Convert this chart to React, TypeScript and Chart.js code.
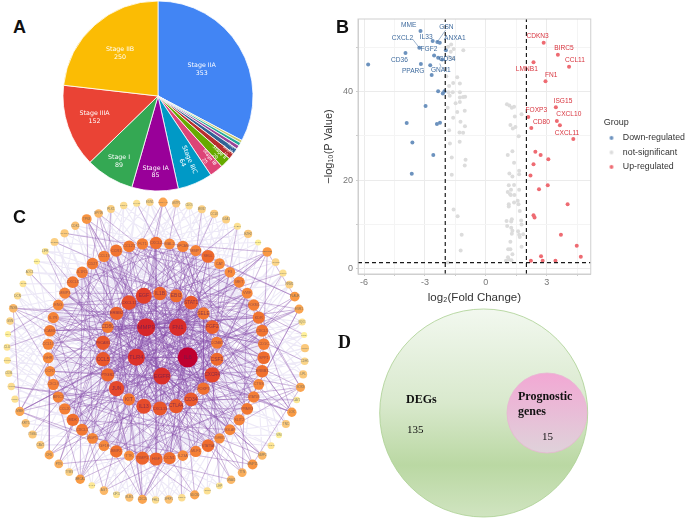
import React, { useEffect, useRef } from "react";
import { Chart, registerables } from "chart.js";

Chart.register(...registerables);

/* ---------- A: stage pie ---------- */
const stageNames = ["Stage IIA", "", "", "", "Stage III", "Stage IV", "Stage II", "Stage IB", "Stage IIIC", "Stage IA", "Stage I", "Stage IIIA", "Stage IIB"];
const stageCounts = [353, 5, 6, 7, 10, 12, 20, 25, 64, 85, 89, 152, 250];
const stageColors = ["#4285f4", "#c8c86a", "#22aa99", "#994499", "#316395", "#b82e2e", "#66aa00", "#dd4477", "#0099c6", "#990099", "#34a853", "#ea4335", "#fbbc04"];
const stageLabelRadius = [51, 0, 0, 0, 91, 89, 83, 80, 71, 76, 76, 67, 57];

/* ---------- B: volcano ---------- */
const downPoints = [[-3.22,53.8],[-2.62,51.5],[-2.39,51.3],[-2.27,51.1],[-3.28,50],[-1.97,49.4],[-3.96,48.8],[-2.55,48.2],[-2.35,47.7],[-2.15,47.3],[-5.8,46.2],[-3.2,46.3],[-2.74,46],[-2.67,43.8],[-2.35,40.1],[-2.12,39.6],[-2.04,40.1],[-2.97,36.8],[-3.9,32.9],[-2.41,32.7],[-2.26,33],[-3.62,28.5],[-2.59,25.7],[-3.65,21.4]];
const upPoints = [[2.85,51.1],[3.55,48.4],[2.35,46.7],[4.1,45.7],[2.94,42.4],[3.45,36.5],[2.09,34.3],[3.5,33.4],[3.65,32.4],[2.24,31.8],[4.31,29.3],[2.44,26.4],[2.7,25.7],[3.08,24.7],[2.35,23.6],[2.2,21],[3.05,18.8],[2.62,17.9],[4.03,14.5],[2.35,12],[2.4,11.5],[3.7,7.6],[4.48,5.1],[4.68,2.6],[2.72,2.7],[2.22,1.7],[2.8,1.7],[3.43,1.7]];
const nsPoints = [[-1.71,50.7],[-1.58,49.7],[-1.11,49.4],[-1.86,50.2],[-1.73,49.1],[-1.84,47.9],[-1.61,47.6],[-1.95,43.5],[-1.41,43.3],[-1.61,42],[-1.81,41.3],[-1.28,41.9],[-1.63,39.9],[-1.28,39.9],[-1.84,39.9],[-1.78,39.1],[-1.28,38.7],[-1.02,38.9],[-1.12,38.8],[-1.28,37.7],[-1.49,37.4],[-1.88,36.4],[-1.04,35.7],[-1.41,35.4],[-1.61,34.1],[-1.25,33.2],[-1.03,32.2],[-1.81,31.3],[-1.3,30.8],[-1.12,30.7],[-1.77,28.3],[-1.29,28.7],[-1.68,25.1],[-1,24.6],[-1.04,23.3],[-1.68,21.2],[-1.59,13.3],[-1.39,11.8],[-1.19,7.6],[-1.24,4],[-1.87,1.3],
[1.04,37.2],[1.16,36.9],[1.28,36.4],[1.39,36.6],[1.76,34.9],[1.43,34.4],[1.21,32.5],[1.33,31.7],[1.46,32],[1.62,29.9],[1.08,25.7],[1.31,26.5],[1.39,23.9],[1.16,21.5],[1.31,20.8],[1.64,22.1],[1.64,21.3],[1.13,18.8],[1.39,18.9],[1.24,17.8],[1.64,17.8],[1.08,17.3],[1.2,16.8],[1.23,16.6],[1.41,16.6],[1.57,15.3],[1.39,14.9],[1.61,14.5],[1.13,14.5],[1.13,14],[1.67,13],[1.28,11.1],[1.25,10.6],[1.02,10.7],[1.74,10.8],[1.76,9.9],[1.05,9.6],[1.25,9.2],[1.31,8.5],[1.28,7.8],[1.59,8.4],[1.64,7.6],[1.67,7.1],[1.84,7.7],[1.21,6],[1.76,4.9],[1.1,4.3],[1.21,4.3],[1.31,3.2],[1.09,2.5],[1.13,2],[1.26,1.8],[0.99,1.7]];
const downGenes: [string, number, number][] = [["MME",-3.8,55],["IL33",-2.94,52.4],["GSN",-1.94,54.7],["CXCL2",-4.11,52.2],["ANXA1",-1.53,52.1],["FGF2",-2.8,49.7],["CD36",-4.26,47.2],["CD34",-1.91,47.5],["PPARG",-3.58,44.7],["GNAI1",-2.22,44.8]];
const upGenes: [string, number, number][] = [["CDKN3",2.55,52.5],["BIRC5",3.85,49.8],["CCL11",4.39,47.1],["LMNB1",2.02,45.1],["FN1",3.22,43.8],["ISG15",3.8,37.9],["FOXP3",2.49,35.8],["CXCL10",4.09,34.9],["CD80",2.74,33.2],["CXCL11",4,30.7]];
const connectors = [[-3.62,52,-3.28,50],[-1.98,54,-2.39,51.3],[-2.27,47.9,-2.15,47.3],[-2.27,46.4,-2.2,45.5]];
const foldCut = 2;
const pCut = 1.3;
const xTicks = [-6, -4.5, -3, -1.5, 0, 1.5, 3, 4.5];
const yTicks = [0, 10, 20, 30, 40, 50];
const xMajor = [-6, -3, 0, 3];
const yMajor = [0, 20, 40];
const xRange = [-6.3, 5.17];
const yRange = [-1.3, 56.5];

/* ---------- C: PPI network, rings read clockwise from the top ---------- */
const coreNames = ["FN1", "IL6", "EGFR", "TLR4", "MMP9"];
const coreDegree = [50, 60, 49, 48, 52];
const ring2Names = ["IL1B","EBI3","STAT1","SELE","FGF2","CCNB1","CSF1","CXCR4","FOXP3","CD34","CTLA4","CXCL13","IL13","KIT","JUN","PTGS2","CCL5","PECAM1","CD80","ERBB2","CXCL11","EGF"];
const ring2Degree = [34,32,36,29,35,28,32,42,30,36,37,37,40,29,41,33,37,37,28,34,39,44];
const ring3Names = ["CXCL2","MAL2","EPCAM","MMP7","SELL","CAT","F3","MET","VWF","FOXM1","KDR","CXCL5","CD1C","SPP1","ERBB3","CTSS","STAT5B","PPARG","SLIT2","BGLAP","TGFBR3","STAT5A","MLF1","IL23A","CCN1","HGF","TIMP1","TTK","BMP2","IGF1R","ANGPT2","CXCL1","MDK","CCL20","BIRC3","CXCL9","CCR7","GHR","CCL17","ICAM1","IL7R","ENG","MMP3","CXCL8","IL1R1","CD27","CCL19","CCR1","CCL21","FLT1"];
const ring3Degree = [30,24,26,25,32,23,23,25,24,26,29,29,27,31,30,24,26,28,25,24,22,31,26,23,30,33,33,22,30,23,24,28,30,26,25,26,23,24,25,27,25,24,25,28,27,27,26,29,28,26];
const ring4Names = ["PRKAA2","GSTP1","CDO1","MKI67","CCL8","GJA1","FABP4","EZH2","GHRL","SERPINE1","HMMR","CXCL14","RRM2","PLAUR","ESR1","NQO1","TOP2A","AURKA","CDH5","LPL","SOX9","CAV1","LOX","TNC","VIM","ACTA2","MMP2","MMP11","TTN","GNAI1","LEP","ADIPOQ","NDC80","CCNA2","SFRP1","FHL1","CDC20","BUB1","KIF11","AGT","GATA3","BRCA1","TYMS","PTN","CFD","CAV2","ITGB4","KRT5","MME","KRT14","ACKR1","CD36","TIMP3","CLU","ANXA1","GSN","TNXB","DCN","ADH1B","AOC3","PDK4","LIFR","CLDN5","SPARCL1","CDK1","TP63","NPY1R","PLK1","COL1A1","MYH11","EDN1"];
const ring4Degree = [17,14,10,12,13,12,9,13,5,19,11,9,12,19,17,9,5,13,11,13,17,7,18,13,5,8,15,20,16,15,8,9,17,10,14,10,17,14,8,15,7,18,12,16,17,13,13,14,17,9,10,9,8,8,5,11,15,10,8,10,5,8,12,13,14,20,15,12,10,9,11];
// Links: first id of each row joins every id after it. Ids run core 0-4, ring 2 5-26, ring 3 27-76, ring 4 77-147.
const strongLinks = [
[0,1,2,3,4,5,8,11,13,16,20,23,26,29,34,39,44,49,55,61,66,72,86,99,109,125],
[1,2,3,4,6,9,12,15,18,21,24,28,31,37,42,47,53,59,64,70,76,90,104,118],
[2,3,4,7,10,14,17,19,22,25,30,35,41,46,52,57,63,68,74,91,106,121,142],
[3,4,5,6,9,13,16,20,26,32,38,43,48,54,60,65,71,75,77,97,113,133],
[4,6,8,11,15,18,23,27,33,36,40,45,50,56,62,67,73,103,116,143],
[5,9,14,19,24,33,41,50,58,69,78,105,130],[6,12,17,22,30,37,46,55,63,72,81,110],[7,11,16,21,26,34,43,51,60,68,88,120,139],
[8,13,18,25,29,39,47,56,65,74,95,125],[9,15,20,24,31,40,49,59,66,76,100,133],[10,14,19,23,28,36,44,53,62,71,83,113],
[11,17,22,26,32,42,48,57,67,75,92,146],[12,16,21,25,35,45,52,61,69,27,107,121],[13,18,24,30,38,46,54,64,73,86,116],
[14,20,26,33,41,51,58,70,29,98,142],[15,19,23,31,37,47,55,68,76,90,127],[16,22,25,34,44,50,62,72,28,104,136],
[17,21,27,35,43,53,65,74,97,143],[18,24,32,40,49,60,71,31,109,118],[19,26,30,39,48,56,66,75,77,125],
[20,25,36,42,52,63,70,33,91,133],[21,28,38,45,57,67,73,86,105,144],[22,29,34,47,54,64,76,35,99,120],
[23,27,37,46,59,69,41,103,138],[24,33,40,51,61,72,30,113,142],[25,31,43,50,58,74,39,97,118],[26,36,44,55,68,75,32,106,123],
[27,52,64,86,131],[29,58,70,90,104],[31,56,90,121,140],[33,60,74,97],[35,62,76,105,125],[37,66,99,133],[39,68,109,143],[41,72,86,113],
[43,28,118,77],[45,69,91,127],[47,61,103,142],[49,73,120],[51,75,116,80],[53,34,106,90],[55,38,125,97],[57,42,133,104],[59,46,143,86],
[61,48,77,109],[63,50,83,121],[65,30,91,113],[67,36,99,116],[69,44,103,138],[71,54,105,118],[73,40,113,125],[75,32,120,93],
[86,90,58,65],[91,45,60,71],[97,104,36,50],[99,41,28,66],[113,35,70,88],[118,62,29],[125,52,74,133],[142,39,57]];
const paleLinks = [
[27,78,92,110,128,146,55],[28,79,93,111,129,147,56],[29,80,94,112,130,57,141],[30,81,95,113,131,58,140],[31,82,96,114,132,59,139],
[32,83,98,115,133,60,138],[33,84,100,116,134,61,137],[34,85,101,117,135,62,136],[35,87,102,119,136,63,144],[36,88,103,120,137,64,145],
[37,89,105,122,138,65,146],[38,92,107,123,139,66,147],[39,93,108,124,140,67,78],[40,94,110,126,141,68,79],[41,95,111,127,142,69,80],
[42,96,112,128,143,70,81],[43,98,114,129,144,71,82],[44,100,115,130,145,72,83],[45,101,117,131,146,73,84],[46,102,119,132,147,74,85],
[47,107,122,134,78,75,87],[48,108,123,135,79,76,88],[49,110,124,137,80,27,89],[50,111,126,138,81,28,92],[51,112,127,139,82,29,93],
[52,114,128,140,83,30,94],[53,115,129,141,84,31,95],[54,117,130,144,85,32,96],[55,119,131,145,87,33,98],[56,122,132,146,88,34,100],
[57,123,134,147,89,35,101],[58,124,135,78,92,36,102],[59,126,136,79,93,37,107],[60,127,137,80,94,38,108],[61,128,139,81,95,39,110],
[62,129,140,82,96,40,111],[63,130,141,83,98,41,112],[64,131,144,84,100,42,114],[65,132,145,85,101,43,115],[66,134,146,87,102,44,117],
[67,135,147,88,107,45,119],[68,136,78,89,108,46,122],[69,137,79,92,110,47,123],[70,139,80,93,111,48,124],[71,140,81,94,112,49,126],
[72,141,82,95,114,50,127],[73,144,83,96,115,51,128],[74,145,84,98,117,52,129],[75,146,85,100,119,53,130],[76,147,87,101,122,54,131],
[5,27,35,44,53,62,71,6,15,24],[6,29,38,47,56,65,74,7,18,25],[7,31,40,49,58,67,76,8,20,26],[8,33,42,51,60,69,28,9,21,12],[9,36,45,54,63,72,30,10,22,14],
[10,37,46,55,64,73,32,11,23,16],[11,39,48,57,66,75,34,12,24,18],[12,41,50,59,68,27,35,13,25,20],[13,43,52,61,70,29,38,14,26,22],[14,44,53,62,71,31,40,15,5,24],
[15,46,55,64,73,33,42,16,6,25],[16,47,56,65,74,36,45,17,7,26],[17,49,58,67,76,37,46,18,8,12],[18,50,59,68,27,39,48,19,9,14],[19,52,61,70,29,41,50,20,10,16],
[20,53,62,71,31,43,52,21,11,18],[21,55,64,73,33,44,53,22,5,7],[22,56,65,74,36,46,55,23,6,9],[23,58,67,76,37,47,56,24,8,11],[24,59,68,27,39,49,58,25,10,13],
[25,61,70,29,41,50,59,26,12,15],[26,62,71,31,43,52,61,5,14,17]];
const ringCenters = [[162, 349], [160, 351], [156, 351], [156, 351]];
const ringRadii = [27, 57.5, 108, 149];
const ringStarts = [36, 0, 0, 2.7];
const ringFonts = [6, 5, 3.8, 3];
const degreeStops: [number, string][] = [[5,"#fff09a"],[10,"#fbdc90"],[14,"#fbc173"],[18,"#f99b45"],[24,"#f6873a"],[30,"#f0702e"],[38,"#e8532b"],[45,"#e03a2a"],[52,"#d6262a"],[60,"#bf0030"]];

/* ---------- D: Venn ---------- */
const vennNames = ["DEGs", "Prognostic genes"];
const vennCounts = [135, 15];

const SANS = '"Liberation Sans", Arial, sans-serif';
const SERIF = '"Liberation Serif", "Times New Roman", serif';

function hexToRgb(h: string) {
  return [1, 3, 5].map((i) => parseInt(h.slice(i, i + 2), 16));
}
function degreeColor(d: number) {
  for (let i = 1; i < degreeStops.length; i++) {
    const [d0, c0] = degreeStops[i - 1];
    const [d1, c1] = degreeStops[i];
    if (d <= d1) {
      const t = Math.max(0, (d - d0) / (d1 - d0));
      const a = hexToRgb(c0);
      const b = hexToRgb(c1);
      return `rgb(${a.map((v, k) => Math.round(v + (b[k] - v) * t)).join(",")})`;
    }
  }
  return degreeStops[degreeStops.length - 1][1];
}

function buildNodes() {
  const names = [coreNames, ring2Names, ring3Names, ring4Names];
  const degs = [coreDegree, ring2Degree, ring3Degree, ring4Degree];
  const nodes: any[] = [];
  names.forEach((ring, k) => {
    ring.forEach((name, i) => {
      const a = ((ringStarts[k] + (360 / ring.length) * i) * Math.PI) / 180;
      nodes.push({
        x: ringCenters[k][0] + ringRadii[k] * Math.sin(a),
        y: ringCenters[k][1] - ringRadii[k] * Math.cos(a),
        r: 2.4 + degs[k][i] * 0.127,
        name,
        ring: k,
        color: degreeColor(degs[k][i]),
      });
    });
  });
  return nodes;
}
function linkSegments(rows: number[][], nodes: any[]) {
  const out: any[] = [];
  rows.forEach(([from, ...to]) => {
    to.forEach((t) => {
      out.push({ x: nodes[from].x, y: nodes[from].y }, { x: nodes[t].x, y: nodes[t].y }, { x: NaN, y: NaN });
    });
  });
  return out;
}
function dotImage(color: string) {
  const c = document.createElement("canvas");
  c.width = 6;
  c.height = 6;
  const g = c.getContext("2d")!;
  g.fillStyle = color;
  g.beginPath();
  g.arc(3, 3, 1.9, 0, Math.PI * 2);
  g.fill();
  return c;
}

export default function App() {
  const pieRef = useRef<HTMLCanvasElement>(null);
  const volRef = useRef<HTMLCanvasElement>(null);
  const netRef = useRef<HTMLCanvasElement>(null);
  const vennRef = useRef<HTMLCanvasElement>(null);

  useEffect(() => {
    const charts: Chart[] = [];

    /* Pie */
    charts.push(
      new Chart(pieRef.current!, {
        type: "pie",
        data: {
          labels: stageNames,
          datasets: [{ data: stageCounts, backgroundColor: stageColors, borderColor: "#ffffff", borderWidth: 0.8 }],
        },
        options: {
          responsive: false,
          animation: false,
          radius: 95,
          layout: { padding: 0 },
          plugins: { legend: { display: false }, tooltip: { enabled: false } },
        } as any,
        plugins: [
          {
            id: "sliceText",
            afterDatasetsDraw(chart: any) {
              const ctx = chart.ctx;
              chart.getDatasetMeta(0).data.forEach((arc: any, i: number) => {
                if (!stageNames[i]) return;
                const mid = (arc.startAngle + arc.endAngle) / 2;
                const span = ((arc.endAngle - arc.startAngle) * 180) / Math.PI;
                const r = stageLabelRadius[i];
                const small = span < 25;
                ctx.save();
                ctx.translate(arc.x + r * Math.cos(mid), arc.y + r * Math.sin(mid));
                if (small) ctx.rotate(mid);
                ctx.fillStyle = "#ffffff";
                const fs = span < 10 ? (span < 5 ? 3.2 : 4.6) : 6.3;
                ctx.font = `${fs}px "DejaVu Sans"`;
                ctx.textAlign = "center";
                ctx.textBaseline = "middle";
                const gap = fs * 1.08;
                ctx.fillText(stageNames[i], 0, -gap / 2 - 0.5);
                ctx.fillText(String(stageCounts[i]), 0, gap / 2 + 0.5);
                ctx.restore();
              });
            },
          },
        ],
      })
    );

    /* Volcano */
    const toXY = (p: number[][]) => p.map(([x, y]) => ({ x, y }));
    const dashed = { type: "line", showLine: true, borderColor: "#1a1a1a", borderWidth: 1.2, borderDash: [4, 3], pointRadius: 0, order: 0, fill: false };
    const groupPoint = { pointRadius: 2, pointHoverRadius: 2, pointBorderWidth: 0, pointStyle: "circle", order: 1 };
    charts.push(
      new Chart(volRef.current!, {
        type: "scatter",
        data: {
          datasets: [
            { label: "Down-regulated", data: toXY(downPoints), backgroundColor: "#6c92be", borderColor: "#6c92be", ...groupPoint },
            { label: "not-significant", data: toXY(nsPoints), backgroundColor: "#dcdcdc", borderColor: "#dcdcdc", ...groupPoint },
            { label: "Up-regulated", data: toXY(upPoints), backgroundColor: "#ee6b72", borderColor: "#ee6b72", ...groupPoint },
            { label: "cut1", data: [{ x: xRange[0], y: pCut }, { x: xRange[1], y: pCut }], ...dashed },
            { label: "cut2", data: [{ x: -foldCut, y: yRange[0] }, { x: -foldCut, y: yRange[1] }], ...dashed },
            { label: "cut3", data: [{ x: foldCut, y: yRange[0] }, { x: foldCut, y: yRange[1] }], ...dashed },
          ] as any,
        },
        options: {
          responsive: false,
          animation: false,
          layout: { padding: { top: 19, right: 4, bottom: 0, left: 0 } },
          plugins: {
            tooltip: { enabled: false },
            legend: {
              position: "right",
              align: "start",
              title: { display: true, text: "\u00a0\u00a0Group", position: "start", color: "#333333", font: { family: SANS, size: 9 }, padding: { top: 99, bottom: -1 } },
              labels: {
                filter: (it: any) => !String(it.text).startsWith("cut"),
                generateLabels: (chart: any) =>
                  (Chart.defaults.plugins.legend.labels as any).generateLabels(chart).map((it: any) => ({ ...it, pointStyle: dotImage(it.fillStyle) })),
                usePointStyle: true,
                pointStyleWidth: 14,
                boxHeight: 3.2,
                padding: 5.7,
                color: "#333333",
                font: { family: SANS, size: 8.8 },
              },
            },
          },
          scales: {
            x: {
              type: "linear",
              min: xRange[0],
              max: xRange[1],
              afterBuildTicks: (s: any) => { s.ticks = xTicks.map((value) => ({ value })); },
              afterFit: (s: any) => { s.height = 31; },
              ticks: { autoSkip: false, maxRotation: 0, padding: 1, color: "#777777", font: { family: SANS, size: 9 }, callback: (v: any) => (xMajor.includes(v) ? String(v) : "") },
              grid: { color: (c: any) => (c.tick && xMajor.includes(c.tick.value) ? "#ebebeb" : "#f4f4f4"), tickLength: 2, tickColor: "#cccccc" },
              border: { color: "#cfcfcf" },
              title: { display: true, text: "log₂(Fold Change)", color: "#333333", font: { family: SANS, size: 11.5 }, padding: { top: 0, bottom: 0 } },
            },
            y: {
              min: yRange[0],
              max: yRange[1],
              afterBuildTicks: (s: any) => { s.ticks = yTicks.map((value) => ({ value })); },
              afterFit: (s: any) => { s.width = 38; },
              ticks: { autoSkip: false, padding: 3, color: "#777777", font: { family: SANS, size: 9 }, callback: (v: any) => (yMajor.includes(v) ? String(v) : "") },
              grid: { color: (c: any) => (c.tick && yMajor.includes(c.tick.value) ? "#ebebeb" : "#f4f4f4"), tickLength: 2, tickColor: "#cccccc" },
              border: { color: "#cfcfcf" },
              title: { display: true, text: "−log₁₀(P Value)", color: "#333333", font: { family: SANS, size: 11 }, padding: { top: 2, bottom: 0 } },
            },
          },
        } as any,
        plugins: [
          {
            id: "legendShift",
            afterLayout(chart: any) {
              chart.legend.left += 8;
              chart.legend.right += 8;
            },
          },
          {
            id: "geneText",
            afterDatasetsDraw(chart: any) {
              const { ctx, chartArea: a, scales } = chart;
              ctx.save();
              ctx.strokeStyle = "#cfcfcf";
              ctx.lineWidth = 1;
              ctx.strokeRect(a.left, a.top, a.right - a.left, a.bottom - a.top);
              ctx.strokeStyle = "#3f6b9e";
              ctx.lineWidth = 0.5;
              connectors.forEach(([x1, y1, x2, y2]) => {
                ctx.beginPath();
                ctx.moveTo(scales.x.getPixelForValue(x1), scales.y.getPixelForValue(y1));
                ctx.lineTo(scales.x.getPixelForValue(x2), scales.y.getPixelForValue(y2));
                ctx.stroke();
              });
              ctx.font = `6.6px ${SANS}`;
              ctx.textAlign = "center";
              ctx.textBaseline = "middle";
              ctx.fillStyle = "#3f6b9e";
              downGenes.forEach(([g, x, y]) => ctx.fillText(g, scales.x.getPixelForValue(x), scales.y.getPixelForValue(y)));
              ctx.fillStyle = "#d8343e";
              upGenes.forEach(([g, x, y]) => ctx.fillText(g, scales.x.getPixelForValue(x), scales.y.getPixelForValue(y)));
              ctx.restore();
            },
          },
        ],
      })
    );

    /* Network: the bubble layout insets the plot by the largest radius, so the axis limits are inset the same way */
    const nodes = buildNodes();
    const netInset = Math.max(...nodes.map((n) => n.r));
    charts.push(
      new Chart(netRef.current!, {
        type: "bubble",
        data: {
          datasets: [
            { type: "scatter", label: "pale", data: linkSegments(paleLinks, nodes), showLine: true, spanGaps: false, borderColor: "rgba(190,175,228,0.28)", borderWidth: 1.1, pointRadius: 0, order: 3, clip: false },
            { type: "scatter", label: "strong", data: linkSegments(strongLinks, nodes), showLine: true, spanGaps: false, borderColor: "rgba(135,80,170,0.45)", borderWidth: 0.9, pointRadius: 0, order: 2, clip: false },
            { type: "bubble", label: "genes", data: nodes.map(({ x, y, r }) => ({ x, y, r })), backgroundColor: nodes.map((n) => n.color), borderWidth: 0, order: 1, clip: false },
          ] as any,
        },
        options: {
          responsive: false,
          animation: false,
          layout: { padding: 0 },
          plugins: { legend: { display: false }, tooltip: { enabled: false } },
          scales: {
            x: { type: "linear", display: false, min: -10 + netInset, max: 320 - netInset },
            y: { type: "linear", display: false, min: 191 + netInset, max: 511 - netInset, reverse: true },
          },
        } as any,
        plugins: [
          {
            id: "nodeText",
            afterDatasetsDraw(chart: any) {
              const { ctx, scales } = chart;
              ctx.save();
              ctx.textAlign = "center";
              ctx.textBaseline = "middle";
              nodes.forEach((n) => {
                ctx.font = `10px ${SANS}`;
                const w = ctx.measureText(n.name).width;
                const fs = Math.min(ringFonts[n.ring], (2 * n.r * 1.02 * 10) / w);
                ctx.font = `${fs}px ${SANS}`;
                ctx.fillStyle = n.ring < 2 ? "rgba(90,30,85,0.68)" : n.ring === 2 ? "rgba(90,50,85,0.6)" : "rgba(85,95,95,0.75)";
                ctx.fillText(n.name, scales.x.getPixelForValue(n.x), scales.y.getPixelForValue(n.y));
              });
              ctx.restore();
            },
          },
        ],
      })
    );

    /* Venn */
    const fillFor = (c: any) => {
      const g = c.chart.ctx.createLinearGradient(0, c.dataIndex === 0 ? 9 : 73, 0, c.dataIndex === 0 ? 217 : 153);
      if (c.dataIndex === 0) {
        g.addColorStop(0, "#f2f8ef");
        g.addColorStop(0.45, "#d9e9cd");
        g.addColorStop(0.75, "#bad8a3");
        g.addColorStop(1, "#d0e4c0");
      } else {
        g.addColorStop(0, "#f2a8d4");
        g.addColorStop(1, "#dfd2da");
      }
      return g;
    };
    const vennInset = 104.8;
    charts.push(
      new Chart(vennRef.current!, {
        type: "bubble",
        data: {
          labels: vennNames,
          datasets: [
            {
              data: [
                { x: 113.7, y: 113, r: 104, n: vennCounts[0] },
                { x: 177, y: 113, r: 40, n: vennCounts[1] },
              ],
              backgroundColor: fillFor,
              borderColor: ["#a9cf90", "#e9b5d3"],
              borderWidth: 0.8,
              clip: false,
            },
          ] as any,
        },
        options: {
          responsive: false,
          animation: false,
          layout: { padding: 0 },
          plugins: { legend: { display: false }, tooltip: { enabled: false } },
          scales: {
            x: { type: "linear", display: false, min: vennInset, max: 260 - vennInset },
            y: { type: "linear", display: false, min: vennInset, max: 218 - vennInset, reverse: true },
          },
        } as any,
      })
    );

    return () => charts.forEach((c) => c.destroy());
  }, []);

  const abs = (left: number, top: number, w: number, h: number): React.CSSProperties => ({
    position: "absolute",
    left,
    top,
    width: w,
    height: h,
    display: "block",
  });
  const text = (left: number, cy: number, size: number, bold: boolean, font: string, s: string) => (
    <div
      style={{
        position: "absolute",
        left,
        top: cy - size * 0.6,
        fontFamily: font,
        fontSize: size,
        fontWeight: bold ? 700 : 400,
        lineHeight: `${size * 1.2}px`,
        color: "#111111",
        whiteSpace: "nowrap",
      }}
    >
      {s}
    </div>
  );

  return (
    <div style={{ position: "absolute", left: 0, top: 0, width: 685, height: 518, overflow: "hidden", background: "#ffffff" }}>
      <canvas ref={pieRef} width={200} height={192} style={abs(58, 0, 200, 192)} />
      <canvas ref={netRef} width={330} height={320} style={abs(-10, 191, 330, 320)} />
      <canvas ref={volRef} width={365} height={305} style={abs(320, 0, 365, 305)} />
      <canvas ref={vennRef} width={260} height={218} style={abs(370, 300, 260, 218)} />
      {text(13, 28, 18, true, SANS, "A")}
      {text(336, 28, 18, true, SANS, "B")}
      {text(13, 218, 18, true, SANS, "C")}
      {text(338, 343, 18, true, SERIF, "D")}
      {text(406, 399, 12, true, SERIF, vennNames[0])}
      {text(407, 430, 11, false, SERIF, String(vennCounts[0]))}
      {text(518, 396, 12, true, SERIF, "Prognostic")}
      {text(518, 411, 12, true, SERIF, "genes")}
      {text(542, 437, 11, false, SERIF, String(vennCounts[1]))}
    </div>
  );
}
